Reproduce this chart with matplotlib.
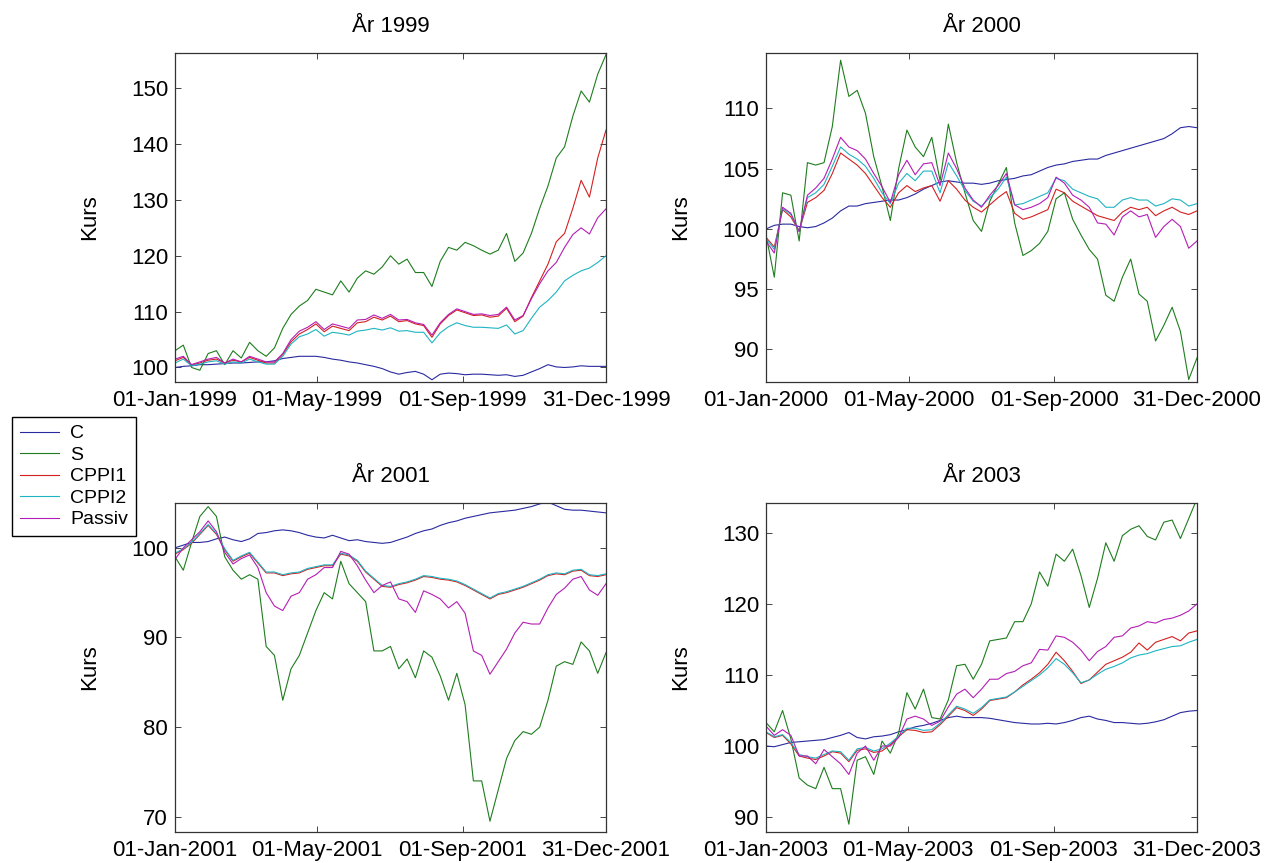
import numpy as np
import pandas as pd
import matplotlib
matplotlib.use("Agg")
import matplotlib.pyplot as plt
import matplotlib.dates as mdates

plt.rcParams['font.family'] = ['Liberation Sans', 'DejaVu Sans']

# Weekly readings (53 per year), index value per strategy
c_1999 = [100, 100.2, 100.3, 100.5, 100.5, 100.6, 100.7, 100.8, 100.8, 100.9,
          101, 101, 101.2, 101.6, 101.8, 102, 102, 102, 101.8, 101.5,
          101.3, 101, 100.8, 100.5, 100.2, 99.8, 99.2, 98.8, 99.1, 99.3,
          98.8, 97.8, 98.8, 99, 98.9, 98.7, 98.8, 98.8, 98.7, 98.6,
          98.7, 98.4, 98.6, 99.2, 99.8, 100.5, 100.1, 100, 100.1, 100.3,
          100.2, 100.2, 100.2]
s_1999 = [103, 104, 100, 99.5, 102.5, 103, 100.5, 103, 101.7, 104.5,
          103, 102, 103.5, 107, 109.5, 111, 112, 114, 113.5, 113,
          115.5, 113.5, 116, 117.3, 116.7, 118, 120, 118.5, 119.4, 117,
          117, 114.5, 119, 121.5, 121, 122.4, 121.8, 121, 120.3, 121,
          124, 119, 120.5, 124, 128.5, 132.5, 137.5, 139.5, 145, 149.5,
          147.5, 152.5, 156]
cppi1_1999 = [101.2, 101.8, 100.5, 100.8, 101.3, 101.5, 100.8, 101.3, 101, 101.8,
              101.3, 100.8, 100.8, 102.3, 104.6, 106, 106.8, 107.8, 106.4, 107.4,
              107, 106.6, 108, 108.2, 109, 108.5, 109.2, 108.2, 108.4, 107.8,
              107.5, 105.4, 107.8, 109.3, 110.3, 109.8, 109.3, 109.4, 109, 109.2,
              110.6, 108.2, 109.2, 112.5, 115.5, 118.5, 122.5, 124, 128.5, 133.5,
              130.5, 137.5, 142.5]
cppi2_1999 = [100.8, 101.5, 100.3, 100.6, 101, 101.2, 100.6, 101, 100.8, 101.5,
              101, 100.6, 100.6, 102, 104.2, 105.5, 106, 106.8, 105.6, 106.3,
              106.1, 105.8, 106.5, 106.7, 107, 106.7, 107.1, 106.5, 106.6, 106.3,
              106.3, 104.4, 106.2, 107.3, 108, 107.5, 107.2, 107.2, 107.1, 107,
              107.6, 106, 106.6, 108.8, 110.8, 112, 113.5, 115.5, 116.5, 117.3,
              117.8, 118.8, 120]
passiv_1999 = [101.5, 102, 100.5, 101, 101.5, 101.8, 100.8, 101.5, 101, 102,
               101.5, 101, 101, 102.5, 105, 106.5, 107.2, 108.2, 106.8, 107.8,
               107.4, 107, 108.5, 108.6, 109.4, 108.8, 109.5, 108.5, 108.6, 108,
               107.7, 105.8, 108, 109.5, 110.5, 110, 109.5, 109.6, 109.3, 109.5,
               110.8, 108.5, 109.3, 112.3, 115, 117.3, 118.8, 121.5, 123.8, 125,
               123.9, 126.8, 128.4]

c_2000 = [100, 100.3, 100.4, 100.4, 100.2, 100.1, 100.2, 100.5, 100.9, 101.5,
          101.9, 101.9, 102.1, 102.2, 102.3, 102.4, 102.4, 102.6, 102.9, 103.3,
          103.6, 103.9, 104, 103.9, 103.8, 103.8, 103.7, 103.8, 104, 104.1,
          104.2, 104.4, 104.5, 104.8, 105.1, 105.3, 105.4, 105.6, 105.7, 105.8,
          105.8, 106.1, 106.3, 106.5, 106.7, 106.9, 107.1, 107.3, 107.5, 107.9,
          108.4, 108.5, 108.4]
s_2000 = [99.5, 96, 103, 102.8, 99, 105.5, 105.3, 105.5, 108.5, 114,
          111, 111.5, 109.6, 106, 103.5, 100.7, 105, 108.2, 106.8, 106,
          107.6, 104, 108.7, 105.5, 103, 100.7, 99.8, 102.3, 103.7, 105.1,
          100.5, 97.8, 98.2, 98.8, 99.8, 102.5, 103, 100.8, 99.5, 98.3,
          97.5, 94.5, 94, 96, 97.5, 94.6, 94, 90.7, 92, 93.5,
          91.5, 87.5, 89.3]
cppi1_2000 = [99.3, 98.5, 101.6, 101, 99.8, 102.2, 102.6, 103.2, 104.6, 106.3,
              105.8, 105.3, 104.6, 103.6, 102.6, 101.8, 103, 103.6, 103.1, 103.4,
              103.6, 102.3, 104, 103.3, 102.4, 101.8, 101.4, 102, 102.6, 103.1,
              101.3, 100.8, 101, 101.3, 101.6, 103.3, 103, 102.3, 101.9, 101.5,
              101.1, 100.9, 100.7, 101.4, 101.8, 101.6, 101.8, 101.1, 101.5, 101.8,
              101.4, 101.2, 101.5]
cppi2_2000 = [99.2, 98.3, 101.7, 101.2, 99.8, 102.6, 103, 103.7, 105.2, 106.8,
              106.2, 105.8, 105.2, 104.2, 103, 102.1, 103.8, 104.6, 104, 104.8,
              104.8, 103, 105.5, 104.4, 103.2, 102.3, 101.9, 102.6, 103.3, 104.3,
              102, 102.1, 102.4, 102.7, 103, 104.2, 104, 103.3, 103, 102.7,
              102.5, 101.8, 101.8, 102.4, 102.6, 102.4, 102.4, 101.9, 102.1, 102.5,
              102.4, 101.9, 102.1]
passiv_2000 = [99, 98, 101.8, 101.3, 99.8, 102.8, 103.4, 104.2, 105.8, 107.6,
               106.8, 106.5, 105.8, 104.6, 103.5, 102.2, 104.5, 105.7, 104.5, 105.4,
               105.5, 103.6, 106.3, 105, 103.4, 102.4, 101.8, 102.8, 103.6, 104.6,
               102, 101.6, 101.8, 102.1, 102.6, 104.3, 103.8, 102.8, 102.4, 101.8,
               100.5, 100.4, 99.5, 101, 101.5, 101, 101.2, 99.3, 100.2, 100.8,
               100.2, 98.4, 99]

c_2001 = [100, 100.3, 100.6, 100.6, 100.7, 101, 101.2, 100.9, 100.7, 101,
          101.6, 101.7, 101.9, 102, 101.9, 101.7, 101.4, 101.2, 101.1, 101.4,
          101.1, 100.8, 100.9, 100.7, 100.6, 100.5, 100.6, 100.9, 101.2, 101.6,
          101.9, 102.1, 102.5, 102.8, 103, 103.3, 103.5, 103.7, 103.9, 104,
          104.1, 104.2, 104.4, 104.6, 104.9, 105.1, 104.7, 104.3, 104.2, 104.2,
          104.1, 104, 103.9]
s_2001 = [99, 97.5, 100.6, 103.5, 104.6, 103.5, 99, 97.5, 96.5, 97,
          96.5, 89, 88, 83, 86.5, 88, 90.5, 93, 95, 94.3,
          98.5, 96, 95, 94, 88.5, 88.5, 89, 86.5, 87.6, 85.5,
          88.5, 87.8, 85.7, 83, 86, 82.5, 74, 74, 69.5, 73,
          76.5, 78.5, 79.5, 79.2, 80, 83, 86.8, 87.3, 87, 89.5,
          88.5, 86, 88.3]
cppi1_2001 = [99.3, 99.8, 100.5, 101.5, 102.5, 101.5, 99.8, 98.5, 99, 99.4,
              98.3, 97.2, 97.2, 96.9, 97.1, 97.2, 97.6, 97.8, 98, 98,
              99.3, 99.1, 98.5, 97.3, 96.5, 95.7, 95.6, 95.9, 96.1, 96.4,
              96.8, 96.7, 96.5, 96.4, 96.2, 95.8, 95.3, 94.8, 94.3, 94.8,
              95, 95.3, 95.6, 96, 96.4, 96.9, 97.1, 97, 97.4, 97.5,
              96.9, 96.8, 97]
cppi2_2001 = [99.4, 99.9, 100.6, 101.6, 102.6, 101.6, 99.9, 98.6, 99.1, 99.5,
              98.4, 97.3, 97.3, 97, 97.2, 97.3, 97.7, 97.9, 98.1, 98.1,
              99.4, 99.2, 98.6, 97.4, 96.6, 95.8, 95.7, 96, 96.2, 96.5,
              96.9, 96.8, 96.6, 96.5, 96.3, 95.9, 95.4, 94.9, 94.4, 94.9,
              95.1, 95.4, 95.7, 96.1, 96.5, 97, 97.2, 97.1, 97.5, 97.6,
              97, 96.9, 97.1]
passiv_2001 = [98.7, 100, 100.9, 101.8, 103, 101.8, 99.5, 98.2, 98.8, 99.2,
               97.8, 95, 93.5, 93, 94.6, 95, 96.5, 97, 97.8, 97.8,
               99.6, 99.3, 98, 96.4, 95, 95.8, 96.2, 94.3, 94, 92.8,
               95.2, 94.8, 94.3, 93.3, 94, 92.7, 88.5, 88, 85.9, 87.3,
               88.7, 90.5, 91.7, 91.5, 91.5, 93.3, 94.8, 95.5, 96.5, 96.8,
               95.3, 94.7, 96]

c_2003 = [100, 99.9, 100.2, 100.5, 100.6, 100.7, 100.8, 100.9, 101.2, 101.5,
          101.9, 101.2, 101, 101.3, 101.4, 101.6, 102, 102.3, 102.7, 102.9,
          103.2, 103.6, 104, 104.2, 104, 104, 104, 103.9, 103.7, 103.5,
          103.3, 103.2, 103.1, 103.1, 103.2, 103.1, 103.3, 103.6, 104, 104.2,
          103.8, 103.6, 103.3, 103.3, 103.2, 103.1, 103.2, 103.4, 103.7, 104.2,
          104.7, 104.9, 105]
s_2003 = [103.3, 102, 105, 101, 95.5, 94.5, 94, 97, 94, 94,
          89, 98, 98.5, 96, 100.7, 99, 101.8, 107.5, 105.2, 108,
          104, 103.8, 106.5, 111.3, 111.5, 109.4, 111.5, 114.8, 115, 115.2,
          117.5, 117.5, 120, 124.5, 122.5, 127, 126, 127.7, 124, 119.5,
          123.6, 128.6, 126, 129.6, 130.5, 131, 129.5, 129, 131.5, 131.8,
          129.2, 132, 134.8]
cppi1_2003 = [101.9, 101.2, 101.5, 100.3, 98.6, 98.3, 98.1, 98.6, 99.2, 99,
              97.8, 99.4, 99.6, 99.1, 99.3, 100.2, 101.3, 102.3, 102.2, 101.9,
              102, 103, 104.2, 105.4, 105, 104.3, 105.2, 106.4, 106.6, 106.8,
              107.6, 108.6, 109.4, 110.3, 111.5, 113.2, 112, 110.5, 108.8, 109.3,
              110.4, 111.5, 112, 112.5, 113.2, 114.5, 113.5, 114.6, 115, 115.4,
              114.8, 115.9, 116.2]
cppi2_2003 = [102, 101.3, 101.6, 100.5, 98.8, 98.5, 98.3, 98.8, 99.3, 99.2,
              98, 99.6, 99.8, 99.3, 99.6, 100.4, 101.4, 102.5, 102.5, 102.2,
              102.3, 103.2, 104.4, 105.6, 105.2, 104.6, 105.4, 106.5, 106.7, 106.9,
              107.6, 108.4, 109.2, 110, 111, 112.3, 111.5, 110.3, 108.9, 109.3,
              110.1, 110.8, 111.2, 111.7, 112.4, 112.8, 113, 113.4, 113.7, 114,
              114.1, 114.6, 115]
passiv_2003 = [102.8, 101.5, 102.3, 101.5, 98.6, 98.6, 97.5, 99.5, 98.5, 97.5,
               96, 99, 100, 98, 100, 100, 101.2, 103.8, 104.2, 103.8,
               102.9, 103.5, 105.5, 107.3, 108, 106.8, 108, 109.4, 109.4, 110.2,
               110.5, 111.3, 111.7, 113.6, 113.5, 115.5, 115.3, 114.6, 113.5, 112,
               113.3, 114, 115.3, 115.5, 116.6, 116.9, 117.5, 117.3, 117.8, 118,
               118.4, 119, 120]

years = [1999, 2000, 2001, 2003]
series = {
    1999: [c_1999, s_1999, cppi1_1999, cppi2_1999, passiv_1999],
    2000: [c_2000, s_2000, cppi1_2000, cppi2_2000, passiv_2000],
    2001: [c_2001, s_2001, cppi1_2001, cppi2_2001, passiv_2001],
    2003: [c_2003, s_2003, cppi1_2003, cppi2_2003, passiv_2003],
}
names = ['C', 'S', 'CPPI1', 'CPPI2', 'Passiv']
colors = ['#2a2aa0', '#1e7d1e', '#d42020', '#1fb4c2', '#b41eb4']

y_limits = {1999: (97.4, 156.3), 2000: (87.3, 114.6), 2001: (68.3, 105.0), 2003: (87.9, 134.2)}
y_ticks = {1999: range(100, 151, 10), 2000: range(90, 111, 5),
           2001: range(70, 101, 10), 2003: range(90, 131, 10)}

# axes rectangles in figure fractions (left, bottom, width, height)
W, H = 1279, 863
rects = {
    1999: (175 / W, 1 - 382 / H, 431 / W, 329 / H),
    2000: (766 / W, 1 - 382 / H, 431 / W, 329 / H),
    2001: (175 / W, 1 - 832 / H, 431 / W, 329 / H),
    2003: (766 / W, 1 - 832 / H, 431 / W, 329 / H),
}

fig = plt.figure(figsize=(W / 100, H / 100), dpi=100)

handles = []
for yr in years:
    ax = fig.add_axes(rects[yr])
    dates = pd.date_range(f"{yr}-01-01", f"{yr}-12-31", periods=53)
    lines = []
    for vals, name, col in zip(series[yr], names, colors):
        ln, = ax.plot(dates, vals, color=col, lw=0.8, label=name)
        lines.append(ln)
    if not handles:
        handles = lines

    ax.set_xlim(pd.Timestamp(f"{yr}-01-01"), pd.Timestamp(f"{yr}-12-31"))
    ax.set_ylim(*y_limits[yr])
    ax.set_yticks(list(y_ticks[yr]))
    ticks = [pd.Timestamp(f"{yr}-01-01"), pd.Timestamp(f"{yr}-05-01"),
             pd.Timestamp(f"{yr}-09-01"), pd.Timestamp(f"{yr}-12-31")]
    ax.set_xticks(ticks)
    ax.xaxis.set_major_formatter(mdates.DateFormatter('%d-%b-%Y'))

    ax.tick_params(direction='in', length=4, top=True, right=True,
                   labelsize=16, width=0.7, color='#444444')
    ax.tick_params(axis='x', pad=6)
    ax.tick_params(axis='y', pad=5)
    for sp in ax.spines.values():
        sp.set_linewidth(0.9)
        sp.set_color('#333333')

    ax.set_title(f"År {yr}", fontsize=16, pad=15)
    ax.set_ylabel("Kurs", fontsize=16, labelpad=22)

fig.legend(handles, names, loc='upper left', bbox_to_anchor=(12 / W, 1 - 417 / H),
           borderaxespad=0, fontsize=14, frameon=True, fancybox=False,
           edgecolor='black', framealpha=1, handlelength=2.0, handletextpad=0.6,
           labelspacing=0.2, borderpad=0.4)

fig.savefig("out.png", dpi=100)
